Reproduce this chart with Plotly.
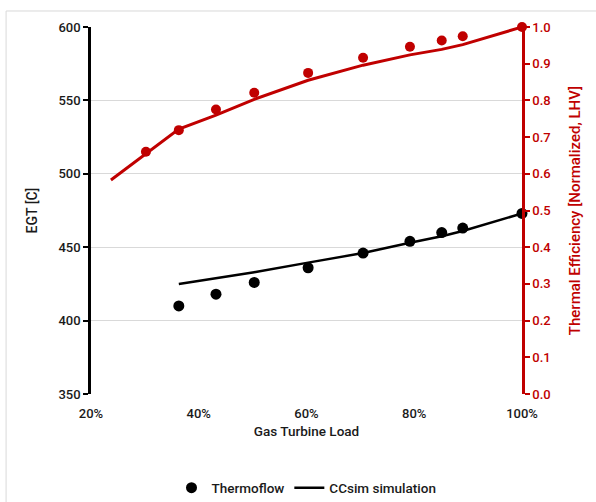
import plotly.graph_objects as go

# Data
load_tf = [0.363, 0.432, 0.503, 0.603, 0.705, 0.792, 0.851, 0.890, 1.00]
egt_tf = [410, 418, 426, 436, 446, 454, 460, 463, 473]
load_sim_egt = [0.363, 0.432, 0.503, 0.603, 0.705, 0.792, 0.851, 0.890, 1.00]
egt_sim = [425, 429, 433, 439.5, 446, 453, 457.5, 461, 473]

load_eff_tf = [0.302, 0.363, 0.432, 0.503, 0.603, 0.705, 0.792, 0.851, 0.890, 1.00]
eff_tf = [0.660, 0.719, 0.775, 0.821, 0.875, 0.916, 0.946, 0.963, 0.975, 1.00]
load_eff_sim = [0.237, 0.302, 0.363, 0.432, 0.503, 0.603, 0.705, 0.792, 0.851, 0.890, 1.00]
eff_sim = [0.583, 0.654, 0.722, 0.760, 0.803, 0.855, 0.896, 0.924, 0.939, 0.952, 1.00]

BLACK = "#000000"
RED = "#C00000"
TXT = "#1a1a1a"
FONT = "Roboto"

fig = go.Figure()
fig.add_trace(go.Scatter(x=load_eff_sim, y=eff_sim, mode="lines", yaxis="y2",
                         line=dict(color=RED, width=3), showlegend=False, cliponaxis=False))
fig.add_trace(go.Scatter(x=load_eff_tf, y=eff_tf, mode="markers", yaxis="y2",
                         marker=dict(color=RED, size=10), showlegend=False, cliponaxis=False))
fig.add_trace(go.Scatter(x=load_sim_egt, y=egt_sim, mode="lines", name="CCsim simulation",
                         line=dict(color=BLACK, width=2.5), showlegend=False, cliponaxis=False))
fig.add_trace(go.Scatter(x=load_tf, y=egt_tf, mode="markers", name="Thermoflow",
                         marker=dict(color=BLACK, size=11), cliponaxis=False))
fig.add_trace(go.Scatter(x=[None], y=[None], mode="lines", name="CCsim simulation",
                         line=dict(color=BLACK, width=2.5)))

fig.update_layout(
    width=596, height=502,
    margin=dict(l=91, r=74, t=27, b=108, autoexpand=False),
    paper_bgcolor="white", plot_bgcolor="white",
    font=dict(family=FONT, size=13, color=TXT, weight=500),
    xaxis=dict(range=[0.2, 1.0], dtick=0.2, tick0=0.2, tickformat=".0%",
               showgrid=False, zeroline=False, showline=False, ticks="",
               automargin=False, ticklabelstandoff=10,
               title=dict(text="Gas Turbine Load", font=dict(size=13.5, color=TXT), standoff=6),
               tickfont=dict(size=13, color=TXT)),
    yaxis=dict(range=[350, 600], dtick=50, showgrid=True, gridcolor="#D9D9D9", gridwidth=1,
               zeroline=False, showline=True, linecolor=BLACK, linewidth=2.5,
               ticks="outside", ticklen=5, tickwidth=2, tickcolor=BLACK, automargin=False,
               title=dict(text="EGT [C]", font=dict(size=14, color=TXT), standoff=18),
               tickfont=dict(size=13, color=TXT)),
    yaxis2=dict(range=[0, 1.0], dtick=0.1, tickformat=".1f", overlaying="y", side="right",
                showgrid=False, zeroline=False, showline=True, linecolor=RED, linewidth=2.5,
                ticks="outside", ticklen=5, tickwidth=2, tickcolor=RED, automargin=False,
                title=dict(text="Thermal Efficiency [Normalized, LHV]", font=dict(size=15, color=RED), standoff=20),
                tickfont=dict(size=13, color=RED)),
    legend=dict(orientation="h", x=0.5, xanchor="center", y=-0.256, yanchor="middle",
                font=dict(size=13.5, color=TXT), itemwidth=30, tracegroupgap=0),
    shapes=[dict(type="rect", xref="paper", yref="paper", x0=-0.197, x1=1.2, y0=-0.33, y1=1.0436,
                 line=dict(color="#D9D9D9", width=1), layer="below")],
)

fig.write_html("out.html")
